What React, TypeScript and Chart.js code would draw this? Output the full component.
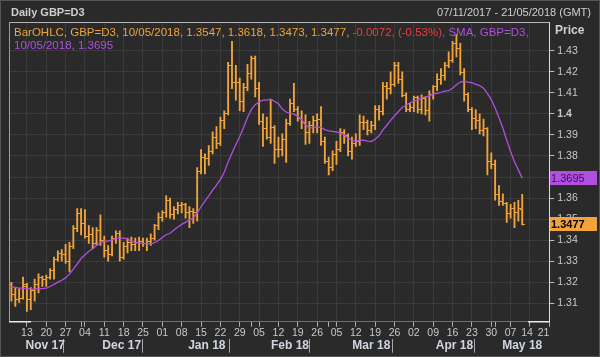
import React, { useEffect, useRef } from "react";
import { Chart, registerables } from "chart.js";

Chart.register(...registerables);

const FONT = '"Liberation Sans", Arial, sans-serif';

const symbol = "GBP=D3";
const lastDate = "10/05/2018";
const rangeLabel = "07/11/2017 - 21/05/2018 (GMT)";

const opens = [
  1.3190, 1.3140, 1.3120, 1.3125, 1.3180, 1.3120, 1.3160, 1.3190, 1.3225, 1.3215,
  1.3225, 1.3255, 1.3310, 1.3335, 1.3330, 1.3300, 1.3370, 1.3455, 1.3525, 1.3480,
  1.3420, 1.3425, 1.3385, 1.3445, 1.3400, 1.3350, 1.3330, 1.3410, 1.3430, 1.3320,
  1.3370, 1.3390, 1.3380, 1.3390, 1.3395, 1.3385, 1.3395, 1.3410, 1.3470, 1.3510,
  1.3530, 1.3590, 1.3520, 1.3545, 1.3565, 1.3570, 1.3530, 1.3535, 1.3530, 1.3725,
  1.3795, 1.3790, 1.3820, 1.3890, 1.3860, 1.3970, 1.4000, 1.4230, 1.4150, 1.4150,
  1.4060, 1.4125, 1.4190, 1.4265, 1.4120, 1.3965, 1.3930, 1.3890, 1.3935, 1.3830,
  1.3830, 1.3880, 1.3955, 1.4050, 1.4020, 1.3980, 1.3960, 1.3910, 1.3945, 1.3970,
  1.3975, 1.3870, 1.3775, 1.3745, 1.3805, 1.3830, 1.3910, 1.3895, 1.3820, 1.3860,
  1.3870, 1.3960, 1.3960, 1.3920, 1.3945, 1.4020, 1.4010, 1.4130, 1.4120, 1.4140,
  1.4230, 1.4165, 1.4085, 1.4020, 1.4030, 1.4080, 1.4020, 1.4075, 1.4015, 1.4090,
  1.4130, 1.4165, 1.4180, 1.4230, 1.4255, 1.4335, 1.4310, 1.4195, 1.4090, 1.4020,
  1.3980, 1.3970, 1.3920, 1.3930, 1.3775, 1.3760, 1.3615, 1.3585, 1.3575, 1.3525,
  1.3550, 1.3530, 1.3547,
];

const highs = [
  1.3200, 1.3175, 1.3170, 1.3225, 1.3195, 1.3175, 1.3215, 1.3240, 1.3230, 1.3235,
  1.3265, 1.3320, 1.3350, 1.3355, 1.3380, 1.3390, 1.3470, 1.3550, 1.3550, 1.3545,
  1.3470, 1.3460, 1.3460, 1.3520, 1.3420, 1.3375, 1.3420, 1.3445, 1.3445, 1.3390,
  1.3410, 1.3415, 1.3410, 1.3415, 1.3410, 1.3410, 1.3430, 1.3475, 1.3530, 1.3540,
  1.3612, 1.3600, 1.3560, 1.3580, 1.3580, 1.3575, 1.3560, 1.3550, 1.3745, 1.3830,
  1.3810, 1.3850, 1.3915, 1.3940, 1.3985, 1.4015, 1.4245, 1.4345, 1.4230, 1.4170,
  1.4145, 1.4235, 1.4275, 1.4275, 1.4150, 1.4000, 1.3985, 1.4065, 1.3945, 1.3890,
  1.3905, 1.3975, 1.4070, 1.4145, 1.4035, 1.4015, 1.3995, 1.3965, 1.3990, 1.4000,
  1.4035, 1.3890, 1.3795, 1.3825, 1.3870, 1.3930, 1.3925, 1.3905, 1.3890, 1.3905,
  1.3995, 1.3990, 1.3970, 1.3965, 1.4040, 1.4040, 1.4150, 1.4150, 1.4200, 1.4245,
  1.4245, 1.4200, 1.4100, 1.4050, 1.4085, 1.4085, 1.4090, 1.4080, 1.4110, 1.4135,
  1.4190, 1.4215, 1.4245, 1.4295, 1.4345, 1.4377, 1.4335, 1.4215, 1.4100, 1.4030,
  1.4020, 1.4000, 1.3975, 1.3935, 1.3815, 1.3780, 1.3660, 1.3620, 1.3580, 1.3570,
  1.3580, 1.3590, 1.3618,
];

const lows = [
  1.3110, 1.3085, 1.3105, 1.3120, 1.3062, 1.3070, 1.3110, 1.3150, 1.3180, 1.3180,
  1.3215, 1.3215, 1.3300, 1.3300, 1.3290, 1.3250, 1.3360, 1.3440, 1.3425, 1.3410,
  1.3385, 1.3360, 1.3375, 1.3375, 1.3320, 1.3300, 1.3325, 1.3385, 1.3300, 1.3310,
  1.3340, 1.3350, 1.3350, 1.3350, 1.3370, 1.3350, 1.3375, 1.3400, 1.3450, 1.3490,
  1.3510, 1.3505, 1.3500, 1.3525, 1.3530, 1.3505, 1.3460, 1.3480, 1.3490, 1.3715,
  1.3715, 1.3755, 1.3810, 1.3835, 1.3850, 1.3930, 1.3995, 1.4120, 1.4065, 1.4015,
  1.4010, 1.4110, 1.4165, 1.4080, 1.3950, 1.3845, 1.3880, 1.3860, 1.3765, 1.3795,
  1.3800, 1.3770, 1.3945, 1.4010, 1.3965, 1.3930, 1.3855, 1.3860, 1.3910, 1.3910,
  1.3850, 1.3765, 1.3710, 1.3730, 1.3760, 1.3820, 1.3860, 1.3800, 1.3785, 1.3845,
  1.3850, 1.3925, 1.3900, 1.3910, 1.3925, 1.3970, 1.3995, 1.4070, 1.4095, 1.4130,
  1.4145, 1.4080, 1.4010, 1.4010, 1.4010, 1.4005, 1.4000, 1.3995, 1.3965, 1.4070,
  1.4110, 1.4140, 1.4160, 1.4220, 1.4245, 1.4270, 1.4185, 1.4060, 1.4010, 1.3925,
  1.3930, 1.3905, 1.3895, 1.3710, 1.3740, 1.3590, 1.3565, 1.3565, 1.3485, 1.3505,
  1.3460, 1.3490, 1.3473,
];

const closes = [
  1.3140, 1.3120, 1.3125, 1.3190, 1.3120, 1.3160, 1.3190, 1.3225, 1.3215, 1.3225,
  1.3255, 1.3310, 1.3335, 1.3330, 1.3300, 1.3370, 1.3455, 1.3525, 1.3480, 1.3420,
  1.3425, 1.3385, 1.3445, 1.3400, 1.3350, 1.3330, 1.3410, 1.3430, 1.3320, 1.3370,
  1.3390, 1.3380, 1.3390, 1.3395, 1.3385, 1.3395, 1.3410, 1.3470, 1.3510, 1.3530,
  1.3590, 1.3520, 1.3545, 1.3565, 1.3570, 1.3530, 1.3535, 1.3530, 1.3725, 1.3795,
  1.3790, 1.3820, 1.3890, 1.3860, 1.3970, 1.4000, 1.4230, 1.4150, 1.4150, 1.4060,
  1.4125, 1.4190, 1.4265, 1.4120, 1.3965, 1.3930, 1.3890, 1.3935, 1.3830, 1.3830,
  1.3880, 1.3955, 1.4050, 1.4020, 1.3980, 1.3960, 1.3910, 1.3945, 1.3970, 1.3975,
  1.3870, 1.3775, 1.3745, 1.3805, 1.3830, 1.3910, 1.3895, 1.3820, 1.3860, 1.3870,
  1.3960, 1.3960, 1.3920, 1.3945, 1.4020, 1.4010, 1.4130, 1.4120, 1.4140, 1.4230,
  1.4165, 1.4085, 1.4020, 1.4030, 1.4080, 1.4020, 1.4075, 1.4015, 1.4090, 1.4130,
  1.4165, 1.4180, 1.4230, 1.4255, 1.4335, 1.4310, 1.4195, 1.4090, 1.4020, 1.3980,
  1.3970, 1.3920, 1.3930, 1.3775, 1.3760, 1.3615, 1.3585, 1.3575, 1.3525, 1.3550,
  1.3530, 1.3549, 1.3477,
];

const sma = [
  1.3180, 1.3176, 1.3172, 1.3172, 1.3170, 1.3168, 1.3168, 1.3170, 1.3170, 1.3172,
  1.3180, 1.3190, 1.3201, 1.3210, 1.3221, 1.3239, 1.3263, 1.3287, 1.3313, 1.3331,
  1.3348, 1.3359, 1.3376, 1.3388, 1.3395, 1.3396, 1.3402, 1.3409, 1.3410, 1.3410,
  1.3406, 1.3395, 1.3389, 1.3387, 1.3384, 1.3385, 1.3383, 1.3388, 1.3399, 1.3413,
  1.3426, 1.3433, 1.3449, 1.3463, 1.3475, 1.3486, 1.3496, 1.3506, 1.3530, 1.3559,
  1.3586, 1.3611, 1.3638, 1.3662, 1.3689, 1.3723, 1.3772, 1.3814, 1.3855, 1.3893,
  1.3935, 1.3983, 1.4021, 1.4044, 1.4057, 1.4065, 1.4065, 1.4070, 1.4060, 1.4048,
  1.4023, 1.4009, 1.4002, 1.3999, 1.3989, 1.3972, 1.3947, 1.3934, 1.3935, 1.3938,
  1.3936, 1.3925, 1.3919, 1.3917, 1.3914, 1.3910, 1.3899, 1.3885, 1.3876, 1.3870,
  1.3874, 1.3875, 1.3871, 1.3869, 1.3880, 1.3896, 1.3924, 1.3946, 1.3969, 1.3991,
  1.4011, 1.4030, 1.4041, 1.4053, 1.4061, 1.4065, 1.4076, 1.4081, 1.4086, 1.4095,
  1.4098, 1.4102, 1.4108, 1.4110, 1.4122, 1.4138, 1.4151, 1.4155, 1.4151, 1.4148,
  1.4140, 1.4134, 1.4122, 1.4097, 1.4068, 1.4028, 1.3981, 1.3933, 1.3875, 1.3821,
  1.3773, 1.3734, 1.3695,
];

const yTicks = [1.31, 1.32, 1.33, 1.34, 1.35, 1.36, 1.37, 1.38, 1.39, 1.4, 1.41, 1.42, 1.43];

const weekTickIdx = [4, 9, 14, 19, 24, 29, 34, 39, 44, 49, 54, 59, 64, 69, 74, 79, 84, 89, 94, 99, 104, 109, 114, 119, 124, 129, 134, 139];
const weekTickLabels = ["13", "20", "27", "04", "11", "18", "25", "01", "08", "15", "22", "29", "05", "12", "19", "26", "05", "12", "19", "26", "02", "09", "16", "23", "30", "07", "14  ", "21    "];
const monthStartIdx = [18, 39, 62, 82, 104, 125];
const monthLabels = ["Nov 17", "Dec 17", "Jan 18", "Feb 18", "Mar 18", "Apr 18", "May 18"];

const X_MIN = -0.55;
const X_MAX = 139;
const Y_MIN = 1.3013;
const Y_MAX = 1.4434;

const ORANGE = "#f2a33a";
const PURPLE = "#b04fe0";
const RED = "#f03c3c";
const TEXT = "#c9c9c9";

const bounds = [X_MIN, ...monthStartIdx, X_MAX];
const monthCenters = monthLabels.map((_, k) => (bounds[k] + bounds[k + 1]) / 2);

export default function App() {
  const ref = useRef<HTMLCanvasElement>(null);

  useEffect(() => {
    document.body.style.margin = "0";
    const canvas = ref.current!;

    const makeTick = (side: "left" | "right") => {
      const c = document.createElement("canvas");
      c.width = 5;
      c.height = 1;
      const g = c.getContext("2d")!;
      g.fillStyle = ORANGE;
      if (side === "left") g.fillRect(0, 0, 2, 1);
      else g.fillRect(3, 0, 2, 1);
      return c;
    };
    const openTick = makeTick("left");
    const closeTick = makeTick("right");

    const n = closes.length - 1;

    const deco = {
      id: "deco",
      beforeDraw(chart: any) {
        const { ctx, width, height } = chart;
        ctx.save();
        ctx.fillStyle = "#2a2a2a";
        ctx.fillRect(0, 0, width, height);
        ctx.strokeStyle = "#565656";
        ctx.lineWidth = 1;
        ctx.strokeRect(0.5, 0.5, width - 1, height - 1);
        ctx.restore();
      },
      afterDraw(chart: any) {
        const { ctx, chartArea: a, scales } = chart;
        const ys = scales.y;
        ctx.save();
        // frame lines
        ctx.fillStyle = "#b5b5b5";
        ctx.fillRect(Math.floor(a.left), Math.floor(a.top), Math.round(a.right - a.left), 1);
        ctx.fillStyle = "#9a9a9a";
        ctx.fillRect(Math.floor(a.left), Math.floor(a.top), 1, Math.round(a.bottom - a.top));
        ctx.fillStyle = "#e8e8e8";
        ctx.fillRect(Math.floor(a.left), Math.floor(a.bottom), 22, 1.5);
        ctx.fillRect(Math.floor(a.right) - 21, Math.floor(a.bottom), 22, 1.5);

        // title bar
        ctx.textBaseline = "middle";
        ctx.textAlign = "left";
        ctx.fillStyle = "#cfcfcf";
        ctx.font = `bold 11px ${FONT}`;
        ctx.fillText(`Daily ${symbol}`, 11, 13);
        ctx.textAlign = "right";
        ctx.font = `11px ${FONT}`;
        ctx.fillText(rangeLabel, 591, 13);

        // legend
        const chg = closes[n] - closes[n - 1];
        const pct = (chg / closes[n - 1]) * 100;
        const segs: [string, string][] = [
          [`BarOHLC, ${symbol}, ${lastDate}, ${opens[n].toFixed(4)}, ${highs[n].toFixed(4)}, ${lows[n].toFixed(4)}, ${closes[n].toFixed(4)}, `, ORANGE],
          [`${chg.toFixed(4)}, (${pct.toFixed(2)}%),`, RED],
          [` SMA, ${symbol},`, PURPLE],
        ];
        ctx.textAlign = "left";
        ctx.font = `11.5px ${FONT}`;
        let x = 14;
        for (const [t, c] of segs) {
          ctx.fillStyle = c;
          ctx.fillText(t, x, 32.5);
          x += ctx.measureText(t).width;
        }
        ctx.fillStyle = PURPLE;
        ctx.fillText(`${lastDate}, ${sma[n].toFixed(4)}`, 14, 45.5);

        // Price label
        ctx.fillStyle = "#cfcfcf";
        ctx.font = `bold 12px ${FONT}`;
        ctx.fillText("Price", 555, 31);

        // value boxes
        const box = (v: number, bg: string, fg: string, bold: boolean) => {
          const py = ys.getPixelForValue(v);
          ctx.fillStyle = bg;
          ctx.fillRect(Math.round(a.right) + 1, Math.round(py - 7), 47, 14);
          ctx.fillStyle = fg;
          ctx.font = `${bold ? "bold " : ""}11px ${FONT}`;
          ctx.textAlign = "left";
          ctx.fillText(v.toFixed(4), Math.round(a.right) + 2, Math.round(py) + 0.5);
        };
        box(sma[n], PURPLE, "#3a0f52", false);
        box(closes[n], ORANGE, "#000000", true);
        ctx.restore();
      },
    };

    const chart = new Chart(canvas, {
      type: "bar",
      data: {
        datasets: [
          {
            type: "line",
            label: "SMA",
            data: sma.map((v, i) => ({ x: i, y: v })),
            borderColor: PURPLE,
            borderWidth: 1.3,
            pointRadius: 0,
            tension: 0,
            fill: false,
            xAxisID: "x",
            yAxisID: "y",
          } as any,
          {
            type: "bar",
            label: "HL",
            data: lows.map((l, i) => ({ x: i, y: [l, highs[i]] })),
            backgroundColor: ORANGE,
            borderWidth: 0,
            barThickness: 1.2,
            xAxisID: "x",
            yAxisID: "y",
          } as any,
          {
            type: "scatter",
            label: "Open",
            data: opens.map((v, i) => ({ x: i, y: v })),
            pointStyle: openTick,
            pointRadius: 3,
            xAxisID: "x",
            yAxisID: "y",
          } as any,
          {
            type: "scatter",
            label: "Close",
            data: closes.map((v, i) => ({ x: i, y: v })),
            pointStyle: closeTick,
            pointRadius: 3,
            xAxisID: "x",
            yAxisID: "y",
          } as any,
        ],
      },
      options: {
        responsive: false,
        animation: false,
        events: [],
        layout: { padding: { left: 9.3, top: 22.5, right: 0, bottom: 3 } },
        plugins: { legend: { display: false }, tooltip: { enabled: false } },
        scales: {
          x: {
            type: "linear",
            position: "bottom",
            weight: 0,
            min: X_MIN,
            max: X_MAX,
            offset: false,
            afterBuildTicks: (s: any) => {
              const vals = [...weekTickIdx, ...monthStartIdx.filter((m) => !weekTickIdx.includes(m))].sort((a, b) => a - b);
              s.ticks = vals.map((v) => ({ value: v }));
            },
            afterFit: (s: any) => {
              s.height = 17;
            },
            ticks: {
              autoSkip: false,
              maxRotation: 0,
              minRotation: 0,
              padding: 0,
              color: TEXT,
              font: { family: FONT, size: 10.5 },
              callback: (v: any) => {
                const k = weekTickIdx.indexOf(Number(v));
                return k >= 0 ? weekTickLabels[k] : "";
              },
            },
            grid: {
              offset: false,
              color: (c: any) => (c.tick && weekTickIdx.includes(c.tick.value) ? "#3b3b3b" : "rgba(0,0,0,0)"),
              tickColor: "#b0b0b0",
              tickLength: 5,
            },
            border: { display: true, color: "#707070" },
          } as any,
          x2: {
            type: "linear",
            axis: "x",
            position: "bottom",
            weight: 1,
            min: X_MIN,
            max: X_MAX,
            offset: false,
            afterBuildTicks: (s: any) => {
              const vals = [...monthStartIdx, ...monthCenters].sort((a, b) => a - b);
              s.ticks = vals.map((v) => ({ value: v }));
            },
            afterFit: (s: any) => {
              s.height = 15.3;
            },
            ticks: {
              autoSkip: false,
              maxRotation: 0,
              minRotation: 0,
              padding: -14,
              color: "#cfd6e0",
              font: { family: FONT, size: 12, weight: "bold" },
              callback: (v: any) => {
                const k = monthCenters.indexOf(Number(v));
                return k >= 0 ? monthLabels[k] : "";
              },
            },
            grid: {
              display: true,
              drawOnChartArea: false,
              drawTicks: true,
              tickLength: 14,
              tickWidth: 1,
              tickColor: (c: any) => (c.tick && monthStartIdx.includes(c.tick.value) ? "#a8a8a8" : "rgba(0,0,0,0)"),
              color: "rgba(0,0,0,0)",
            },
            border: { display: false },
          } as any,
          y: {
            type: "linear",
            position: "right",
            min: Y_MIN,
            max: Y_MAX,
            beginAtZero: false,
            afterBuildTicks: (s: any) => {
              s.ticks = yTicks.map((v) => ({ value: v }));
            },
            afterFit: (s: any) => {
              s.width = 50.7;
            },
            ticks: {
              color: TEXT,
              padding: 3,
              font: (c: any) => ({
                family: FONT,
                size: 10.5,
                weight: c.tick && Math.abs(c.tick.value - 1.4) < 1e-9 ? "bold" : "normal",
              }),
              callback: (v: any) => (Math.abs(Number(v) - 1.4) < 1e-9 ? "1.4" : Number(v).toFixed(2)),
            },
            grid: { color: "#3b3b3b", tickColor: "#bdbdbd", tickLength: 5 },
            border: { display: true, color: "#dedede", width: 1 },
          } as any,
        },
      },
      plugins: [deco],
    });

    return () => chart.destroy();
  }, []);

  return (
    <div style={{ position: "relative", width: 600, height: 357 }}>
      <canvas ref={ref} width={600} height={357} style={{ display: "block", width: 600, height: 357 }} />
    </div>
  );
}
